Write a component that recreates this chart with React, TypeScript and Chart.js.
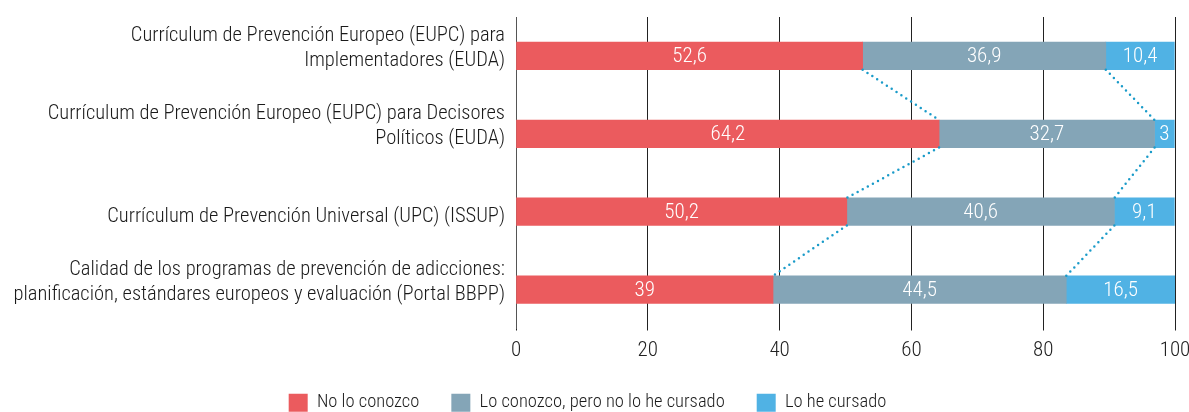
import React, { useEffect, useRef } from "react";
import { Chart, registerables } from "chart.js";

Chart.register(...registerables);

const categories: string[][] = [
  ["Currículum de Prevención Europeo (EUPC) para", "Implementadores (EUDA)"],
  ["Currículum de Prevención Europeo (EUPC) para Decisores", "Políticos (EUDA)"],
  ["", "Currículum de Prevención Universal (UPC) (ISSUP)"],
  ["Calidad de los programas de prevención de adicciones:", "planificación, estándares europeos y evaluación (Portal BBPP)"],
];

const seriesNames = ["No lo conozco", "Lo conozco, pero no lo he cursado", "Lo he cursado"];
const noLoConozco = [52.6, 64.2, 50.2, 39];
const conozcoNoCursado = [36.9, 32.7, 40.6, 44.5];
const heCursado = [10.4, 3, 9.1, 16.5];
const xTicks = [0, 20, 40, 60, 80, 100];

const colors = ["#EB5B5E", "#84A5B7", "#50B2E4"];
const FAMILY = "Roboto, 'Open Sans', sans-serif";
const WEIGHT = "300 condensed";

const fmt = (v: number) => String(v).replace(".", ",");

const labelsPlugin = {
  id: "barLabels",
  afterDatasetsDraw(chart: any) {
    const ctx = chart.ctx;
    ctx.save();
    ctx.strokeStyle = "#1A9BC9";
    ctx.lineWidth = 2.5;
    ctx.lineCap = "round";
    ctx.setLineDash([0, 5.8]);
    for (let d = 0; d < 2; d++) {
      const meta = chart.getDatasetMeta(d);
      for (let i = 0; i < meta.data.length - 1; i++) {
        const a: any = meta.data[i];
        const b: any = meta.data[i + 1];
        ctx.beginPath();
        ctx.moveTo(a.x, a.y + a.height / 2);
        ctx.lineTo(b.x, b.y - b.height / 2);
        ctx.stroke();
      }
    }
    ctx.setLineDash([]);
    ctx.fillStyle = "#ffffff";
    ctx.font = `${WEIGHT} 21px ${FAMILY}`;
    ctx.textAlign = "center";
    ctx.textBaseline = "middle";
    chart.data.datasets.forEach((ds: any, d: number) => {
      const meta = chart.getDatasetMeta(d);
      meta.data.forEach((el: any, i: number) => {
        const cx = (el.x + el.base) / 2;
        ctx.fillText(fmt(ds.data[i]), cx, el.y + 1);
      });
    });
    ctx.restore();
  },
};

export default function App() {
  const ref = useRef<HTMLCanvasElement>(null);
  useEffect(() => {
    document.body.style.margin = "0";
    if (!ref.current) return;
    const chart = new Chart(ref.current, {
      type: "bar",
      data: {
        labels: categories,
        datasets: [noLoConozco, conozcoNoCursado, heCursado].map((data, k) => ({
          label: seriesNames[k],
          data,
          backgroundColor: colors[k],
          borderWidth: 0,
          barThickness: 27.5,
        })),
      },
      options: {
        indexAxis: "y",
        animation: false,
        responsive: true,
        maintainAspectRatio: false,
        layout: { padding: { top: 17, right: 14, left: 0, bottom: -10 } },
        scales: {
          x: {
            stacked: true,
            min: 0,
            max: 100,
            afterBuildTicks: (scale: any) => {
              scale.ticks = xTicks.map((v) => ({ value: v }));
            },
            afterFit: (scale: any) => {
              scale.height = 33;
              scale.paddingLeft = 0;
              scale.paddingRight = 0;
            },
            grid: { color: "#222222", lineWidth: 1, drawTicks: true, tickLength: 2 },
            border: { display: false },
            ticks: {
              color: "#222222",
              font: { family: FAMILY, weight: WEIGHT, size: 21 },
              padding: 8,
            },
          },
          y: {
            stacked: true,
            afterFit: (scale: any) => {
              scale.width = 516;
              scale.paddingTop = 0;
              scale.paddingBottom = 0;
            },
            grid: { display: false, drawTicks: false },
            border: { display: true, color: "#555555", width: 1 },
            ticks: {
              color: "#1a1a1a",
              font: { family: FAMILY, weight: WEIGHT, size: 20.5, lineHeight: 1.22 },
              padding: 11,
              labelOffset: -7.5,
            },
          },
        },
        plugins: {
          legend: {
            position: "bottom",
            labels: {
              boxWidth: 19,
              boxHeight: 18,
              padding: 32,
              color: "#1a1a1a",
              font: { family: FAMILY, weight: WEIGHT, size: 18.5 },
            },
          },
          tooltip: { enabled: false },
        },
      },
      plugins: [labelsPlugin],
    });
    return () => chart.destroy();
  }, []);
  return (
    <div style={{ position: "relative", width: "1189px", height: "412px" }}>
      <canvas ref={ref} />
    </div>
  );
}
